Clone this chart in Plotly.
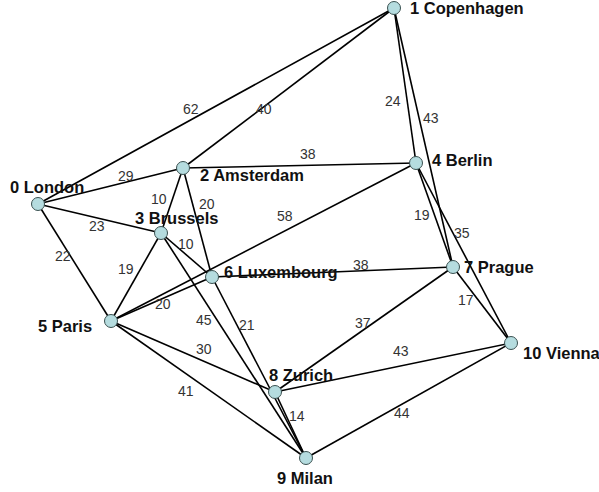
import plotly.graph_objects as go

# Node data (layout positions in the drawing's pixel space)
node_names = ["0 London", "1 Copenhagen", "2 Amsterdam", "3 Brussels", "4 Berlin",
              "5 Paris", "6 Luxembourg", "7 Prague", "8 Zurich", "9 Milan", "10 Vienna"]
node_x = [38, 394, 183, 161, 416, 111, 212, 453, 275, 306, 511]
node_y = [204, 8, 168, 233, 163, 321, 277, 267, 392, 458, 343]

# Edge data
edge_src = [0, 0, 0, 0, 1, 1, 1, 2, 2, 2, 3, 3, 3, 4, 4, 4, 5, 5, 5, 6, 6, 7, 7, 8, 8, 9]
edge_dst = [1, 2, 3, 5, 2, 4, 7, 3, 4, 6, 5, 6, 9, 5, 7, 10, 6, 8, 9, 7, 9, 8, 10, 9, 10, 10]
edge_weight = [62, 29, 23, 22, 40, 24, 43, 10, 38, 20, 19, 10, 45, 58, 19, 35, 20, 30, 41, 38, 21, 37, 17, 14, 43, 44]

# Label placement styles
edge_label_t = [0.442, 0.617, 0.492, 0.417, 0.622, 0.586, 0.436, 0.543, 0.536, 0.362, 0.474, 0.387, 0.362,
                0.410, 0.462, 0.410, 0.492, 0.540, 0.428, 0.618, 0.287, 0.485, 0.357, 0.428, 0.545, 0.448]
edge_label_dx = [-4, -1.5, -2, -5, 1, -13.5, 11, -12, 0, 13, -11, 5, -9.5,
                 -6, -11, 7, 2, 4.4, -8, 0, 7.7, -3.4, -7.7, 9, -3, 4]
edge_label_dy = [-8, -6, 8, 3, 1.5, 2, -2.5, -4, -11, -3.5, -6, -6, 6,
                 -11.7, 4, -4, 4.6, -10, 11, -6, -4, -5, 6, -4, -14.6, 7]

node_label_anchor = ["center", "left", "left", "center", "left", "right", "left", "left", "center", "center", "left"]
node_label_dx = [9, 14, 15, 15, 13.5, -17, 10, 9, 25.5, -1, 10]
node_label_dy = [-17, 0, 7, -15.5, -3, 5, -5, 0, -17, 19.5, 10]

W, H = 599, 492

fig = go.Figure()

ex, ey = [], []
for a, b in zip(edge_src, edge_dst):
    ex += [node_x[a], node_x[b], None]
    ey += [node_y[a], node_y[b], None]
fig.add_trace(go.Scatter(x=ex, y=ey, mode="lines",
                         line=dict(color="black", width=1.6),
                         hoverinfo="skip", showlegend=False))

fig.add_trace(go.Scatter(x=node_x, y=node_y, mode="markers",
                         marker=dict(size=13, color="#b5dcdf",
                                     line=dict(color="#3a5050", width=1)),
                         text=node_names, hoverinfo="text", showlegend=False))

annotations = []
for i, (a, b) in enumerate(zip(edge_src, edge_dst)):
    t = edge_label_t[i]
    lx = node_x[a] + t * (node_x[b] - node_x[a])
    ly = node_y[a] + t * (node_y[b] - node_y[a])
    annotations.append(dict(x=lx, y=ly, text=str(edge_weight[i]), showarrow=False,
                            xanchor="center", yanchor="middle",
                            xshift=edge_label_dx[i], yshift=-edge_label_dy[i],
                            font=dict(family="Liberation Sans, Arial, sans-serif", size=14, color="#333333")))

for i, name in enumerate(node_names):
    annotations.append(dict(x=node_x[i], y=node_y[i], text="<b>%s</b>" % name, showarrow=False,
                            xanchor=node_label_anchor[i], yanchor="middle",
                            xshift=node_label_dx[i], yshift=-node_label_dy[i],
                            font=dict(family="Liberation Sans, Arial, sans-serif", size=16.5, color="#111111")))

fig.update_layout(width=W, height=H, margin=dict(l=0, r=0, t=0, b=0),
                  paper_bgcolor="white", plot_bgcolor="white",
                  xaxis=dict(range=[0, W], visible=False, fixedrange=True),
                  yaxis=dict(range=[H, 0], visible=False, fixedrange=True),
                  annotations=annotations)

fig.write_html("out.html", config={"displayModeBar": False},
               post_script="document.body.style.margin='0';document.body.style.overflow='hidden';")
